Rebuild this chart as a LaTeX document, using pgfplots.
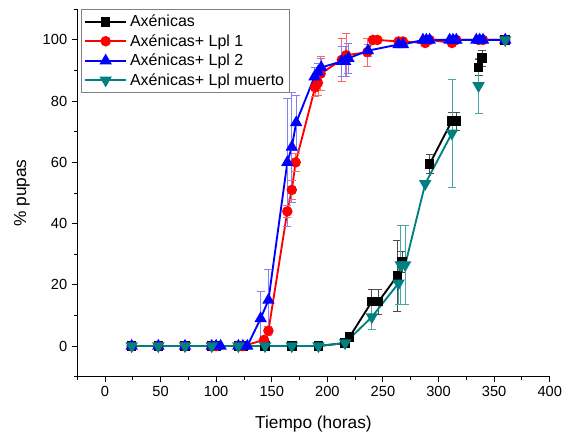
\documentclass[border=0pt]{standalone}
\usepackage{pgfplots}
\usepackage{pgfplotstable}
\pgfplotsset{compat=1.18}
\usepackage{fontspec}
\setmainfont{Liberation Sans}
\definecolor{tealc}{RGB}{0,128,128}

% x = horas, y = % pupas, e = error
\pgfplotstableread{
x y e
24 0 0
48 0 0
72 0 0
96 0 0
100 0 0
120 0 0
124 0 0
144 0 0
168 0 0
192 0 0
216 1 0.5
220 3 1
240 14.5 4
246 14.5 4
263 23 11.5
267 27.5 3.5
280 nan 0
292 59.5 3
312 73.5 3
316 73.5 3
325 nan 0
336 91 2.5
339 94 2.5
350 nan 0
360 100 0
}\axenicas

\pgfplotstableread{
x y e
24 0 0
48 0 0
72 0 0
96 0 0
100 0 0
120 0 0
124 0 0
143 2 1
147 5 1.5
164 44 2
168 51 3
171.5 60 3
189 84.5 3
191.5 86 4
194 89 5.5
213 93.5 7
217 95 7
236 96 4.5
241 100 0
245 100 0
264 99.5 1
268 99.5 1
288 99 0.5
292 100 0
312 99 0.5
316 100 0
336 100 0
340 100 0
360 100 0
}\lplA

\pgfplotstableread{
x y e
24 0 0
48 0 0
72 0 0
96 0 0
100 0 0
104 0 0
120 0 0
124 0 0
128 0 0
140 9 9
147 15 10
164 60 21
168 65 18
172 73 9
188.5 88 3
191.5 89.5 3
194.5 91 3
213 93 5
216 93 5
219 94 5
236.5 96.5 2
264 98.5 1
268 98.5 1
286 100 0
289 100 0
292 100 0
310 100 0
313 100 0
316 100 0
334 100 0
337 100 0
340 100 0
360 100 0
}\lplB

\pgfplotstableread{
x y e
24 0 0
48 0 0
72 0 0
96 0 0
120 0 0
144 0 0
168 0 0
192 0 0
216 1 0.5
240 9.5 4
264 20.5 7
266 26.5 13
270 26.5 13
288 53 0
312 69.5 17.5
325 nan 0
336 85 9
350 nan 0
360 100 0
}\muerto

\begin{document}
\begin{tikzpicture}
\begin{axis}[
  name=ax,
  scale only axis,
  width=355pt, height=276pt,
  xmin=-25, xmax=400, ymin=-10, ymax=110,
  xtick={0,50,...,400}, ytick={0,20,...,100},
  minor xtick={-25,25,...,375}, minor ytick={-10,10,...,110},
  axis x line*=bottom, axis y line*=left,
  axis line style={-, line width=0.8pt},
  tick align=outside,
  major tick length=4pt, minor tick length=2.5pt,
  every tick/.style={black, line width=0.7pt},
  tick label style={font=\fontsize{11}{13}\selectfont},
  /pgf/number format/assume math mode=true,
  xlabel={Tiempo (horas)}, ylabel={\% pupas},
  label style={font=\fontsize{13}{15}\selectfont},
  xlabel style={yshift=-7pt},
  ylabel style={yshift=3pt},
  unbounded coords=jump,
  legend style={at={(0.008,1.0)}, anchor=north west, draw=gray,
    font=\fontsize{12}{14}\selectfont, row sep=0.3pt, inner xsep=2pt, inner ysep=2pt},
  legend cell align=left,
  legend image code/.code={\draw[mark repeat=2,mark phase=2] plot coordinates {(0cm,0cm) (0.55cm,0cm) (1.1cm,0cm)};},
  every axis plot/.append style={line width=1.4pt},
  error bars/y dir=both, error bars/y explicit,
]
\addplot[black, mark=square*, mark size=2.9pt,
  error bars/error bar style={line width=0.5pt, black!70},
  error bars/error mark options={rotate=90, mark size=3pt, line width=0.5pt, black!70}]
  table[x=x, y=y, y error=e] {\axenicas};
\addlegendentry{Axénicas}
\addplot[red, mark=*, mark size=3.2pt,
  error bars/error bar style={line width=0.5pt, red!60},
  error bars/error mark options={rotate=90, mark size=3pt, line width=0.5pt, red!60}]
  table[x=x, y=y, y error=e] {\lplA};
\addlegendentry{Axénicas+ Lpl 1}
\addplot[blue, mark=triangle*, mark size=4pt,
  error bars/error bar style={line width=0.5pt, blue!50},
  error bars/error mark options={rotate=90, mark size=3pt, line width=0.5pt, blue!50}]
  table[x=x, y=y, y error=e] {\lplB};
\addlegendentry{Axénicas+ Lpl 2}
\addplot[tealc, mark=triangle*, mark size=4pt, mark options={rotate=180},
  error bars/error bar style={line width=0.5pt, tealc!70},
  error bars/error mark options={rotate=90, mark size=3pt, line width=0.5pt, tealc!70}]
  table[x=x, y=y, y error=e] {\muerto};
\addlegendentry{Axénicas+ Lpl muerto}
\end{axis}
\path ([xshift=-58pt,yshift=-43pt]ax.south west) rectangle ([xshift=22pt,yshift=7pt]ax.north east);
\end{tikzpicture}
\end{document}
